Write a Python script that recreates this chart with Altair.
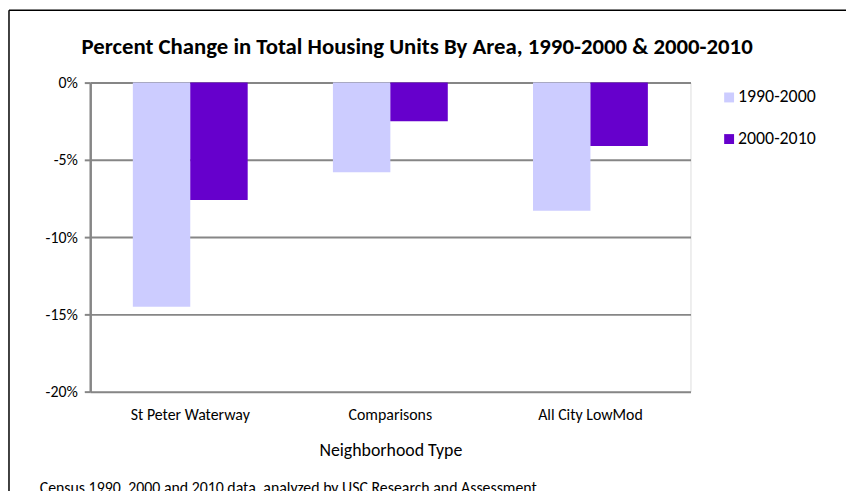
import altair as alt
import pandas as pd

categories = ["St Peter Waterway", "Comparisons", "All City LowMod"]
series = ["1990-2000", "2000-2010"]
values_1990_2000 = [-14.5, -5.8, -8.3]
values_2000_2010 = [-7.6, -2.5, -4.1]
y_ticks = [0, -5, -10, -15, -20]
colors = ["#CCCCFF", "#6600CC"]
title_text = "Percent Change in Total Housing Units By Area, 1990-2000 & 2000-2010"
footer = "Census 1990, 2000 and 2010 data, analyzed by USC Research and Assessment"

rows = []
for c, v in zip(categories, values_1990_2000):
    rows.append({"area": c, "period": series[0], "pct": v})
for c, v in zip(categories, values_2000_2010):
    rows.append({"area": c, "period": series[1], "pct": v})
df = pd.DataFrame(rows)

FONT = "Carlito, Lato, sans-serif"

bars = alt.Chart(df).mark_bar().encode(
    x=alt.X("area:N", sort=categories,
            scale=alt.Scale(paddingInner=0.426, paddingOuter=0.213),
            axis=alt.Axis(title="Neighborhood Type", labelAngle=0, ticks=False,
                          domain=False, labelPadding=15, labelFontSize=16,
                          labelColor="#000000", titleFontSize=18,
                          titleFontWeight="normal", titleColor="#000000",
                          titlePadding=19, labelFont=FONT, titleFont=FONT,
                          grid=False)),
    xOffset=alt.XOffset("period:N", sort=series,
                        scale=alt.Scale(paddingInner=0, paddingOuter=0)),
    y=alt.Y("pct:Q", scale=alt.Scale(domain=[-20, 0], nice=False),
            axis=alt.Axis(title=None, values=y_ticks,
                          labelExpr="datum.value + '%'",
                          labelFontSize=16, labelColor="#000000",
                          labelFont=FONT, labelPadding=7,
                          domainColor="#868686", domainWidth=2.5,
                          tickColor="#868686", tickWidth=2, tickSize=6,
                          gridColor="#868686", gridWidth=2)),
    color=alt.Color("period:N", sort=series,
                    scale=alt.Scale(domain=series, range=colors),
                    legend=alt.Legend(title=None, orient="none",
                                      legendX=636, legendY=6,
                                      symbolType="square", symbolSize=100,
                                      symbolStrokeWidth=0,
                                      labelFontSize=18, labelFont=FONT,
                                      labelColor="#000000", labelOffset=0,
                                      rowPadding=24)),
)

title_df = pd.DataFrame({"txt": [title_text]})
title = alt.Chart(title_df).mark_text(
    align="center", baseline="alphabetic", fontSize=23, font=FONT,
    fontWeight="bold", color="#000000"
).encode(x=alt.value(330), y=alt.value(-29), text="txt:N")

foot_df = pd.DataFrame({"txt": [footer]})
foot = alt.Chart(foot_df).mark_text(
    align="left", baseline="alphabetic", fontSize=16, font=FONT, color="#000000"
).encode(x=alt.value(-51), y=alt.value(414), text="txt:N")

border_df = pd.DataFrame({"k": [0]})
left_border = alt.Chart(border_df).mark_rule(color="#000000", strokeWidth=1.5).encode(
    x=alt.value(-82), y=alt.value(-73), y2=alt.value(420))
top_border = alt.Chart(border_df).mark_rule(color="#000000", strokeWidth=1.5).encode(
    x=alt.value(-82), x2=alt.value(800), y=alt.value(-73))

chart = alt.layer(bars, title, foot, left_border, top_border).properties(
    width=606, height=312,
    autosize=alt.AutoSizeParams(type="none"),
    padding={"left": 83, "top": 73, "right": 157, "bottom": 98},
).configure_view(stroke="#868686", strokeWidth=2.5).configure(background="#FFFFFF")

chart.save("out.html", embed_options={"renderer": "svg", "actions": False})
